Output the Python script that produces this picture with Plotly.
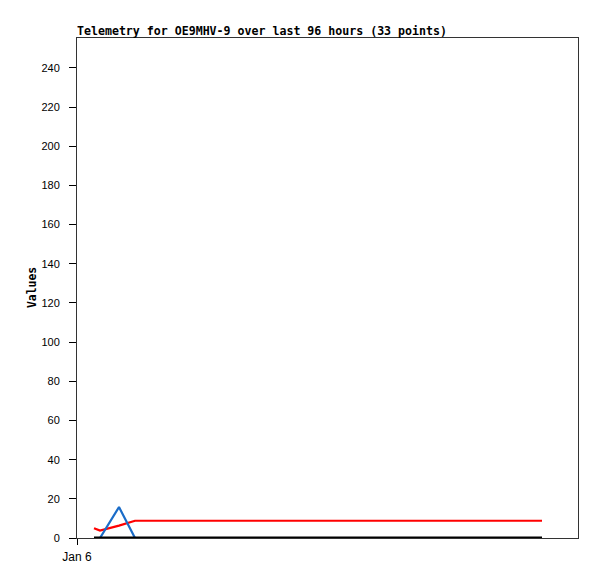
import plotly.graph_objects as go

# hour offsets from Jan 6 00:00
hours = [3.4, 4.6, 8.4, 11.6,
         14.4, 17.2, 20.0, 22.8, 25.6, 28.4, 31.2, 34.0, 36.8, 39.6,
         42.4, 45.3, 48.1, 50.9, 53.7, 56.5, 59.3, 62.1, 64.9, 67.7,
         70.5, 73.3, 76.1, 78.9, 81.8, 84.6, 87.4, 90.2, 93.0]
red_vals = [5.0, 3.8, 6.3, 8.8] + [8.8] * 29
blue_vals = [0, 0, 15.8, 0] + [0] * 29
black_vals = [0] * 33

x_tickvals = [0]
x_ticktext = ["Jan 6"]
y_tickvals = [0, 20, 40, 60, 80, 100, 120, 140, 160, 180, 200, 220, 240]

fig = go.Figure()
fig.add_trace(go.Scatter(x=hours, y=red_vals, mode="lines",
                         line=dict(color="#ff0000", width=2.2)))
fig.add_trace(go.Scatter(x=hours, y=blue_vals, mode="lines",
                         line=dict(color="#1a6cc8", width=2.2)))
fig.add_trace(go.Scatter(x=hours, y=black_vals, mode="lines",
                         line=dict(color="#000000", width=3)))

fig.update_layout(
    width=597, height=579,
    margin=dict(l=77, r=19, t=38, b=41),
    paper_bgcolor="white", plot_bgcolor="white",
    showlegend=False,
    font=dict(family="Liberation Sans", size=11, color="#000"),
    xaxis=dict(range=[0, 100.2], tickvals=x_tickvals, ticktext=x_ticktext,
               showgrid=False, zeroline=False, showline=True, mirror=True,
               linecolor="#333", linewidth=1, ticks="outside", ticklen=6,
               tickcolor="#000", automargin=False, ticklabelstandoff=2,
               tickfont=dict(family="Liberation Sans", size=12)),
    yaxis=dict(range=[0, 255.3], tickvals=y_tickvals,
               showgrid=False, zeroline=False, showline=True, mirror=True,
               linecolor="#333", linewidth=1, ticks="outside", ticklen=7,
               tickcolor="#000", automargin=False, ticklabelstandoff=7,
               tickfont=dict(family="Liberation Sans", size=11)),
    annotations=[
        dict(text="<b>Telemetry for OE9MHV-9 over last 96 hours (33 points)</b>",
             xref="paper", yref="paper", x=0, y=1, xanchor="left", yanchor="bottom",
             xshift=-2, yshift=-2, showarrow=False,
             font=dict(family="DejaVu Sans Mono", size=11.6, color="#000")),
        dict(text="<b>Values</b>", xref="paper", yref="paper",
             x=-45 / 501, y=0.5, xanchor="center", yanchor="middle",
             textangle=-90, showarrow=False,
             font=dict(family="DejaVu Sans Mono", size=11.4, color="#000")),
    ],
)

fig.write_html("out.html", config={"displayModeBar": False},
               post_script="document.body.style.margin='0';document.body.style.overflow='hidden';")
